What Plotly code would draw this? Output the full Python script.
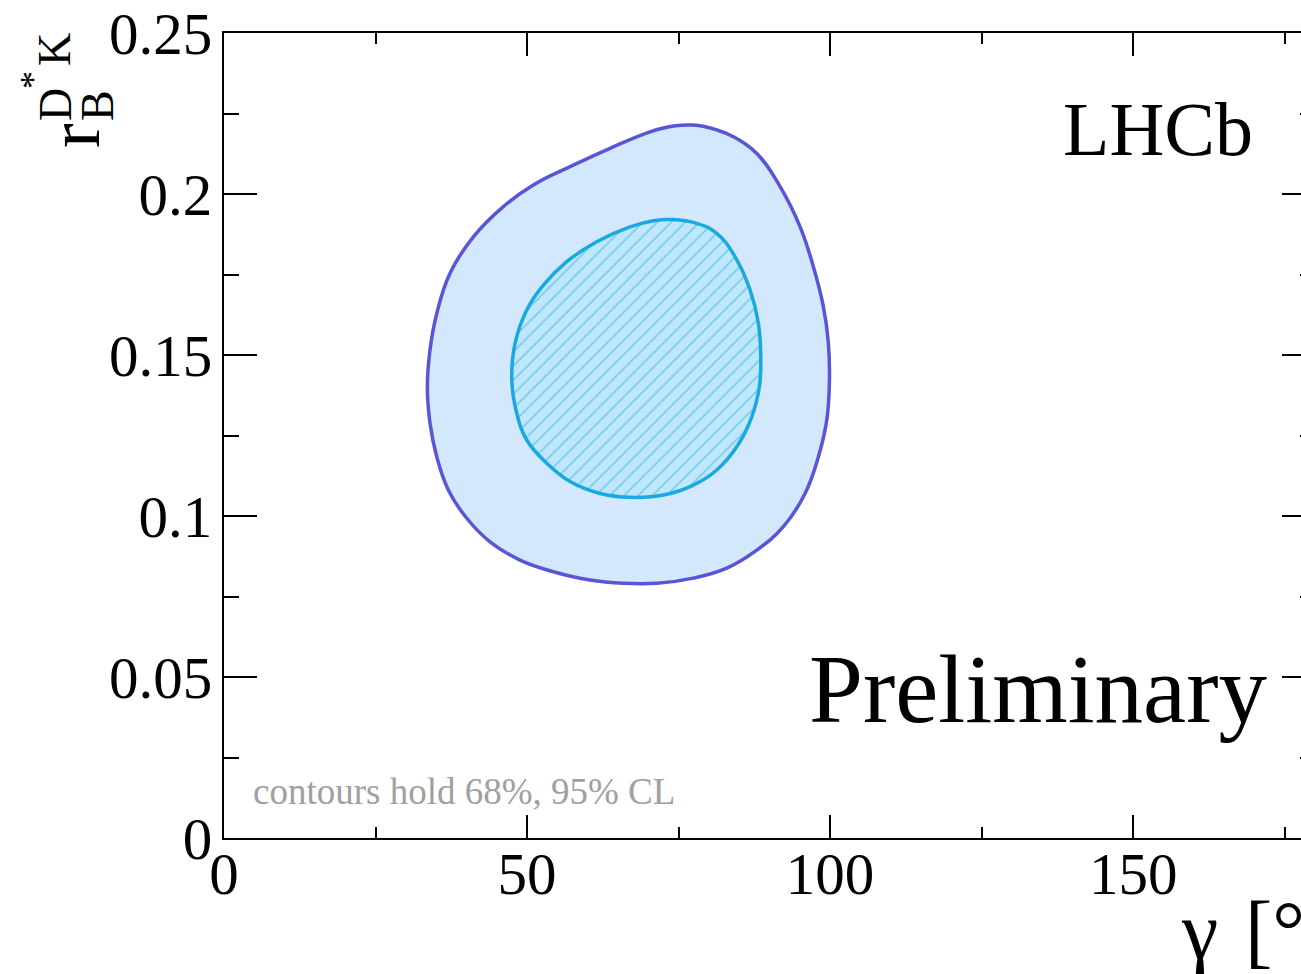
import plotly.graph_objects as go

# 95% CL contour (gamma in degrees, r_B^{D*K})
gamma_95 = [77.44, 81.30, 84.04, 87.90, 91.75, 95.05, 97.24, 98.89, 99.72, 99.88,
            99.45, 98.07, 95.87, 92.29, 87.90, 82.95, 77.44, 71.40, 65.89, 60.40,
            54.34, 48.84, 43.89, 40.05, 37.01, 35.10, 33.99, 33.55, 33.99, 35.10,
            37.29, 41.14, 46.09, 51.04, 57.10, 63.70, 70.30, 74.14]
rb_95 = [0.2214, 0.2199, 0.2178, 0.2126, 0.2023, 0.1898, 0.1774, 0.1650, 0.1536, 0.1412,
         0.1298, 0.1184, 0.1070, 0.0967, 0.0894, 0.0838, 0.0807, 0.0791, 0.0791, 0.0801,
         0.0827, 0.0863, 0.0920, 0.0993, 0.1081, 0.1184, 0.1288, 0.1402, 0.1516, 0.1629,
         0.1754, 0.1867, 0.1961, 0.2028, 0.2085, 0.2142, 0.2193, 0.2211]

# 68% CL contour
gamma_68 = [73.88, 78.00, 81.30, 84.32, 86.80, 88.17, 88.56, 88.33, 87.08, 84.60,
            81.30, 77.44, 72.49, 67.00, 62.05, 57.10, 53.25, 49.95, 48.30, 47.48,
            48.02, 49.95, 52.69, 56.55, 61.50, 67.00, 70.84]
rb_68 = [0.1921, 0.1909, 0.1878, 0.1805, 0.1702, 0.1598, 0.1495, 0.1402, 0.1308, 0.1215,
         0.1143, 0.1096, 0.1065, 0.1058, 0.1070, 0.1107, 0.1164, 0.1236, 0.1319, 0.1422,
         0.1536, 0.1640, 0.1717, 0.1790, 0.1852, 0.1898, 0.1917]

x_ticks = [0, 50, 100, 150]
y_ticks = [0, 0.05, 0.1, 0.15, 0.2, 0.25]
y_tick_text = ["0", "0.05", "0.1", "0.15", "0.2", "0.25"]

FONT = "Liberation Serif"
W, H = 1330, 974
L, R, T, B = 224, 15, 33, 136
PW, PH = W - L - R, H - T - B


def px(x):
    return (x - L) / PW


def py(y):
    return (H - B - y) / PH


def close(seq):
    return list(seq) + [seq[0]]


fig = go.Figure()

fig.add_trace(go.Scatter(
    x=close(gamma_95), y=close(rb_95), mode="lines", fill="toself",
    fillcolor="#d4e8fd", line=dict(color="#5a55d8", width=3.5, shape="spline", smoothing=1.2),
    hoverinfo="skip", showlegend=False,
))
fig.add_trace(go.Scatter(
    x=close(gamma_68), y=close(rb_68), mode="lines", fill="toself",
    fillcolor="#bfe7fb",
    fillpattern=dict(shape="/", fgcolor="#1aa8e0", bgcolor="#bfe7fb", size=10, solidity=0.15),
    line=dict(color="#19a9e1", width=3.5, shape="spline", smoothing=1.2),
    hoverinfo="skip", showlegend=False,
))

axis_common = dict(
    showline=True, linecolor="black", linewidth=2, mirror="ticks",
    ticks="inside", tickcolor="black", tickwidth=2,
    showgrid=False, zeroline=False, automargin=False,
    tickfont=dict(family=FONT, size=59, color="black"),
)

fig.update_xaxes(
    range=[0, 180], tickmode="array", tickvals=x_ticks, ticklen=23,
    minor=dict(dtick=25, tick0=0, ticklen=11, tickwidth=2, tickcolor="black", ticks="inside", showgrid=False),
    ticklabelstandoff=-17,
    **axis_common,
)
fig.update_yaxes(
    range=[0, 0.25], tickmode="array", tickvals=y_ticks, ticktext=y_tick_text, ticklen=33,
    minor=dict(dtick=0.025, tick0=0, ticklen=15, tickwidth=2, tickcolor="black", ticks="inside", showgrid=False),
    ticklabelstandoff=-2,
    **axis_common,
)

ann = []


def text(s, x, y, size, xanchor="center", yanchor="middle", angle=0, color="black"):
    ann.append(dict(
        text=s, x=px(x), y=py(y), xref="paper", yref="paper",
        xanchor=xanchor, yanchor=yanchor, textangle=angle, showarrow=False,
        font=dict(family=FONT, size=size, color=color), borderpad=0,
    ))


text("LHCb", 1254, 129, 76, xanchor="right")
text("Preliminary", 1268, 689, 97, xanchor="right")
text("contours hold 68%, 95% CL", 252, 791, 37, xanchor="left", color="#a0a0a0")

# x-axis title
text("γ", 1180, 930, 82, xanchor="left")
text("[°]", 1244, 930, 82, xanchor="left")

# y-axis title r_B^{D*K}, drawn glyph by glyph
text("r", 74, 136, 74, angle=-90)
text("B", 97, 106, 46, angle=-90)
text("D", 55, 105, 46, angle=-90)
text("*", 33, 80, 36, angle=-90)
text("K", 55, 50, 46, angle=-90)

fig.update_layout(
    width=W, height=H,
    margin=dict(l=L, r=R, t=T, b=B, pad=0),
    paper_bgcolor="white", plot_bgcolor="white",
    annotations=ann,
    showlegend=False,
)

fig.write_html(
    "out.html",
    post_script="document.documentElement.style.overflow='hidden';document.body.style.overflow='hidden';",
)
